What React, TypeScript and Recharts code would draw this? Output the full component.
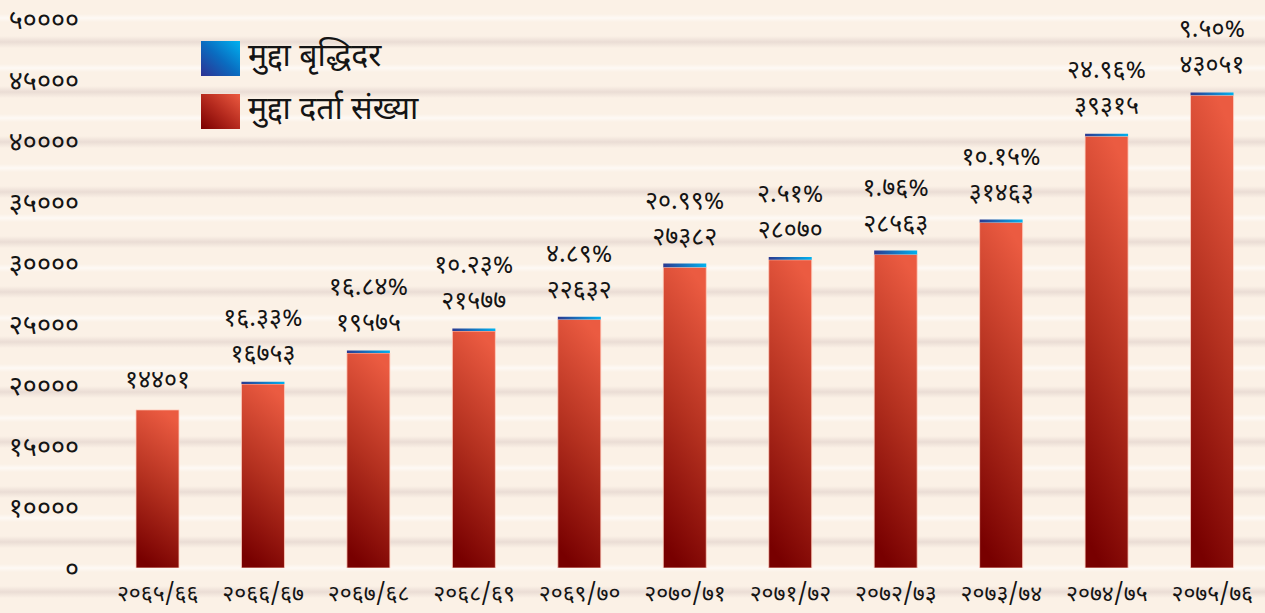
import React from 'react';
import { BarChart, Bar, XAxis, YAxis, Legend, LabelList } from 'recharts';

// ---------- data ----------
const categories = [
  '२०६५/६६', '२०६६/६७', '२०६७/६८', '२०६८/६९', '२०६९/७०', '२०७०/७१',
  '२०७१/७२', '२०७२/७३', '२०७३/७४', '२०७४/७५', '२०७५/७६',
];
const caseCounts = [14401, 16753, 19575, 21577, 22632, 27382, 28070, 28563, 31463, 39315, 43051];
const growthRates: (number | null)[] = [null, 16.33, 16.84, 10.23, 4.89, 20.99, 2.51, 1.76, 10.15, 24.96, 9.5];
// thin blue cap drawn on top of each bar (visual height)
const capValues = [0, 210, 240, 245, 245, 340, 245, 360, 275, 245, 245];
const yTickLabels = [0, 10000, 15000, 20000, 25000, 30000, 35000, 40000, 45000, 50000];
const yTickMarks = [0, 5000, 10000, 15000, 20000, 25000, 30000, 35000, 40000, 45000, 50000];
const seriesNames = ['मुद्दा बृद्धिदर', 'मुद्दा दर्ता संख्या'];

const DIGITS = '०१२३४५६७८९';
const toNe = (v: string | number) => String(v).replace(/[0-9]/g, (d) => DIGITS[+d]);

const data = categories.map((name, i) => ({
  name,
  count: caseCounts[i],
  cap: capValues[i],
}));

const FONT = '"Noto Sans Devanagari", "Lohit Devanagari", "Noto Sans", "DejaVu Sans", sans-serif';
const TEXT = '#141414';

const renderTopLabel = (props: any) => {
  const { x, y, width, value } = props;
  const index = caseCounts.indexOf(Number(value));
  if (index < 0) return null;
  const cx = Number(x) + Number(width) / 2;
  const top = Number(y);
  const r = growthRates[index];
  return (
    <g>
      <text x={cx} y={top - 28} textAnchor="middle" dominantBaseline="central"
        fontFamily={FONT} fontSize={25} fill={TEXT}>
        {toNe(caseCounts[index])}
      </text>
      {r != null && (
        <text x={cx} y={top - 64} textAnchor="middle" dominantBaseline="central"
          fontFamily={FONT} fontSize={25} fill={TEXT}>
          {toNe(r.toFixed(2)) + '%'}
        </text>
      )}
    </g>
  );
};

const renderLegend = () => {
  const swatches = [
    'linear-gradient(to top right, #2e3192 0%, #0a6cc0 50%, #00b2f0 100%)',
    'linear-gradient(to top right, #7a0000 0%, #b52a1e 50%, #ec5a40 100%)',
  ];
  return (
    <div style={{ fontFamily: FONT }}>
      {seriesNames.map((n, i) => (
        <div key={n} style={{ display: 'flex', alignItems: 'center', height: 35, marginBottom: i === 0 ? 18 : 0 }}>
          <div style={{ width: 39, height: 35, background: swatches[i], marginRight: 8 }} />
          <span style={{ fontSize: 32, color: TEXT, lineHeight: '35px', whiteSpace: 'nowrap' }}>{n}</span>
        </div>
      ))}
    </div>
  );
};

const stripes =
  'repeating-linear-gradient(to bottom, rgba(255,255,255,0) 0px, rgba(255,255,255,0) 14px, rgba(255,255,255,0.6) 18px, rgba(255,255,255,0) 22px, rgba(255,255,255,0) 36px, rgba(214,196,192,0.45) 42px, rgba(214,196,192,0) 48px, rgba(214,196,192,0) 50px)';

export default function App() {
  return (
    <div style={{ position: 'absolute', left: 0, top: 0, width: 1265, height: 613, background: `${stripes}, #fbf1e6` }}>
      <BarChart width={1265} height={613} data={data} margin={{ top: 19, right: 0, bottom: 0, left: 0 }} barSize={43}>
        <defs>
          <linearGradient id="redGrad" x1="0.6" y1="0" x2="0.4" y2="1">
            <stop offset="0%" stopColor="#eb5b41" />
            <stop offset="50%" stopColor="#b3301f" />
            <stop offset="100%" stopColor="#780000" />
          </linearGradient>
          <linearGradient id="blueGrad" x1="0" y1="0" x2="1" y2="0">
            <stop offset="0%" stopColor="#2b3990" />
            <stop offset="100%" stopColor="#00b2f0" />
          </linearGradient>
        </defs>
        <XAxis xAxisId="grid" type="number" domain={[0, categories.length]} allowDataOverflow
          ticks={categories.map((_, i) => i).concat([categories.length])}
          height={0} tickFormatter={() => ''} tickSize={5}
          axisLine={{ stroke: '#3c3c3c', strokeWidth: 2 }} tickLine={{ stroke: '#3c3c3c', strokeWidth: 1 }} />
        <XAxis xAxisId="cat" dataKey="name" height={45} axisLine={false} tickLine={false}
          tickSize={0} tickMargin={17} interval={0}
          tick={{ fontFamily: FONT, fontSize: 23, fill: TEXT }} />
        <YAxis yAxisId="val" type="number" domain={[0, 50000]} allowDataOverflow ticks={yTickMarks}
          width={0} tickFormatter={() => ''} tickSize={5}
          axisLine={{ stroke: '#111', strokeWidth: 1.5 }} tickLine={{ stroke: '#111', strokeWidth: 1 }} />
        <YAxis yAxisId="lbl" type="number" domain={[0, yTickLabels.length - 1]} allowDataOverflow
          ticks={yTickLabels.map((_, i) => i)} width={105} axisLine={false} tickLine={false}
          tickSize={0} tickMargin={26} interval={0}
          tickFormatter={(i: number) => toNe(yTickLabels[i])}
          tick={{ fontFamily: FONT, fontSize: 27, fill: TEXT }} />
        <Legend layout="vertical" align="center" verticalAlign="middle"
          wrapperStyle={{ top: 41, left: 201, width: 'auto' }} content={renderLegend} />
        <Bar dataKey="count" name={seriesNames[1]} stackId="s" xAxisId="cat" yAxisId="val"
          fill="url(#redGrad)" stroke="rgba(255,205,190,0.8)" strokeWidth={1} isAnimationActive={false}>
          <LabelList dataKey="count" content={renderTopLabel} />
        </Bar>
        <Bar dataKey="cap" name={seriesNames[0]} stackId="s" xAxisId="cat" yAxisId="val"
          fill="url(#blueGrad)" isAnimationActive={false} />
      </BarChart>
    </div>
  );
}
